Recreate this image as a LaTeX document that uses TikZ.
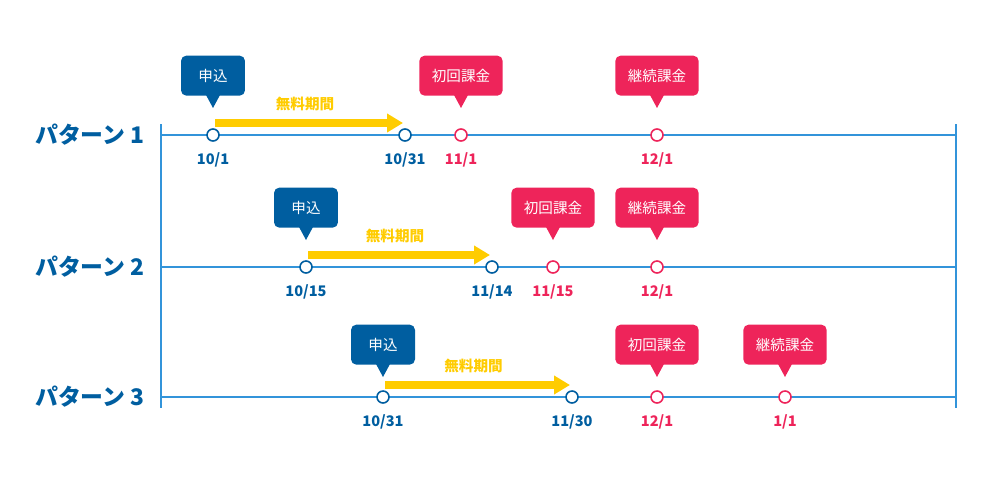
\documentclass[tikz,border=0pt]{standalone}
\usepackage{fontspec}
\setmainfont{Noto Sans CJK JP}
\usetikzlibrary{arrows.meta,positioning,calc}
\definecolor{applyBlue} {RGB}{  0, 94,160}
\definecolor{lineBlue}  {RGB}{ 50,148,218}
\definecolor{chargeRed} {RGB}{238, 36, 90}
\definecolor{freeYellow}{RGB}{255,204,  0}

\begin{document}
\begin{tikzpicture}[x=0.02cm,y=-0.02cm,
    tagbox/.style={rounded corners=3pt,text=white,font=\fontsize{8.3}{8.3}\selectfont,
      minimum width=1.28cm,minimum height=0.8cm,inner xsep=0.25cm,anchor=south},
    daydot/.style={circle,fill=white,line width=0.9pt,inner sep=0pt,minimum size=0.24cm},
    daytext/.style={font=\bfseries\fontsize{8.3}{8.3}\selectfont},
    rowtitle/.style={font=\bfseries\fontsize{13}{13}\selectfont,text=applyBlue,anchor=east,inner sep=0pt},
    freearrow/.style={freeYellow,line width=0.16cm,-{Triangle[length=0.32cm,width=0.36cm]}}]
  \useasboundingbox (0,0) rectangle (1000,500);
  % frame of the time axis
  \draw[lineBlue,line width=0.8pt] (161,124) -- (161,408) (956,124) -- (956,408);
  \foreach \r/\y/\tp/\ax/\ad/\bx/\bd/\cx/\cd/\dx/\dd in {%
      1/135/27/213/{10/1}/405/{10/31}/461/{11/1}/657/{12/1},
      2/267/27/306/{10/15}/492/{11/14}/553/{11/15}/657/{12/1},
      3/397/20/383/{10/31}/572/{11/30}/657/{12/1}/785/{1/1}}{
    \coordinate (L\r) at (161,\y);
    \coordinate (R\r) at (956,\y);
    \draw[lineBlue,line width=0.8pt] (L\r) -- (R\r);
    \node[rowtitle] (title\r) at (145,\y) {パターン \r};
    % free period
    \draw[freearrow] ($(L\r-|\ax,0)+(2,-12)$) coordinate (fs\r) -- ($(L\r-|\bx,0)+(-2,-12)$) coordinate (fe\r);
    \node[daytext,text=freeYellow] (free\r) at ($(fs\r)!0.5!(fe\r)+(-4,-19)$) {無料期間};
    % days
    \node[daydot,draw=applyBlue] (start\r) at (\ax,\y) {};
    \node[daydot,draw=applyBlue] (end\r)   at (\bx,\y) {};
    \node[daydot,draw=chargeRed] (first\r) at (\cx,\y) {};
    \node[daydot,draw=chargeRed] (next\r)  at (\dx,\y) {};
    \node[daytext,text=applyBlue] (startday\r) at ($(start\r)+(0,25)$) {\ad};
    \node[daytext,text=applyBlue] (endday\r)   at ($(end\r)+(0,25)$)   {\bd};
    \node[daytext,text=chargeRed] (firstday\r) at ($(first\r)+(0,25)$) {\cd};
    \node[daytext,text=chargeRed] (nextday\r)  at ($(next\r)+(0,25)$)  {\dd};
    % callouts
    \foreach \d/\c/\t in {start/applyBlue/申込,first/chargeRed/初回課金,next/chargeRed/継続課金}{
      \coordinate (\d tip\r) at ($(\d\r)+(0,-\tp)$);
      \node[tagbox,fill=\c] (\d tag\r) at ($(\d tip\r)+(0,-12)$) {\t};
      \fill[\c] ($(\d tag\r.south)+(-7,-1)$) -- (\d tip\r) -- ($(\d tag\r.south)+(7,-1)$) -- cycle;
    }
  }
\end{tikzpicture}
\end{document}
